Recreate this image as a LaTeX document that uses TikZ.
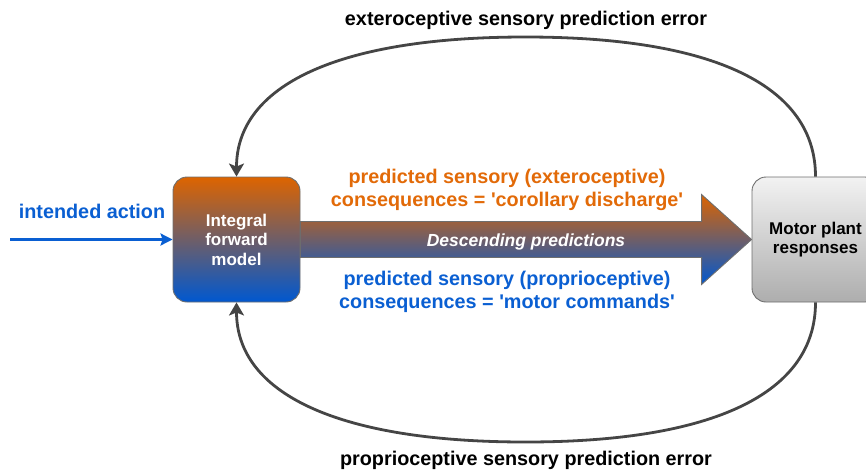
\documentclass[tikz,border=0pt]{standalone}
\usepackage{fontspec}
\setmainfont{Liberation Sans}
\usetikzlibrary{arrows.meta,calc,backgrounds}
\definecolor{orng}{HTML}{E26A08}
\definecolor{blu}{HTML}{0A5FD2}
\definecolor{oshade}{HTML}{DD6400}
\definecolor{bshade}{HTML}{0058D0}
\definecolor{edge}{HTML}{6E6E6E}
\definecolor{conn}{HTML}{454545}
\begin{document}
\begin{tikzpicture}[x=1pt,y=-1pt,
  box/.style={rectangle, rounded corners=14pt, draw=edge, line width=0.9pt,
    minimum width=127pt, minimum height=125pt, inner sep=0pt, align=center,
    font=\fontsize{17}{19.5}\selectfont\bfseries},
  lbl/.style={font=\fontsize{19.8}{23}\selectfont\bfseries, align=center, inner sep=0pt},
  fb/.style={draw=conn, line width=2.8pt, -{Stealth[length=13pt,width=15pt,inset=3pt]}},
  iarrow/.style={draw=blu, line width=2.5pt, -{Stealth[length=12pt,width=12pt,inset=2pt]}},
  bigarrow/.style={draw=edge, line width=0.9pt, top color=oshade, bottom color=bshade}
]
\useasboundingbox (0,0) rectangle (866,472);
\clip (0,0) rectangle (866,472);

% boxes
\node[box, top color=oshade, bottom color=bshade, text=white] (ifm) at (236.5,239.5) {Integral\\forward\\model};
\node[box, top color=black!5, bottom color=black!32, text=black] (mp) at (815.5,239.5) {Motor plant\\responses};

% big descending arrow
\begin{scope}[on background layer]
\coordinate (tail) at (ifm.east);
\coordinate (tip) at (mp.west);
\draw[bigarrow] ($(tail)+(0,-18)$) -- ($(tip)+(-50,-18)$) -- ($(tip)+(-50,-45)$) -- (tip)
  -- ($(tip)+(-50,45)$) -- ($(tip)+(-50,18)$) -- ($(tail)+(0,18)$) -- cycle;
\end{scope}
\node[font=\fontsize{17.5}{20}\selectfont\bfseries\itshape, text=white] (dp) at (526,242) {Descending predictions};

% labels
\node[lbl, text=orng] (ext) at (507,189.5) {predicted sensory (exteroceptive)\\consequences = \textquotesingle corollary discharge\textquotesingle};
\node[lbl, text=blu] (pro) at (507,291.5) {predicted sensory (proprioceptive)\\consequences = \textquotesingle motor commands\textquotesingle};
\node[lbl, text=blu] (ia) at (92,211) {intended action};
\node[lbl, text=black] (exterr) at (526,20) {exteroceptive sensory prediction error};
\node[lbl, text=black] (proerr) at (526,460) {proprioceptive sensory prediction error};

% intended action arrow
\coordinate (iastart) at (10,239.5);
\draw[iarrow] (iastart) -- (ifm.west);

% feedback loops
\coordinate (top) at (525.5,37);
\coordinate (bot) at (525.5,442);
\draw[fb] (mp.north) .. controls +(0,-91) and +(188,0) .. (top)
  .. controls +(-188,0) and +(0,-91) .. (ifm.north);
\draw[fb] (mp.south) .. controls +(0,91) and +(188,0) .. (bot)
  .. controls +(-188,0) and +(0,91) .. (ifm.south);
\end{tikzpicture}
\end{document}
